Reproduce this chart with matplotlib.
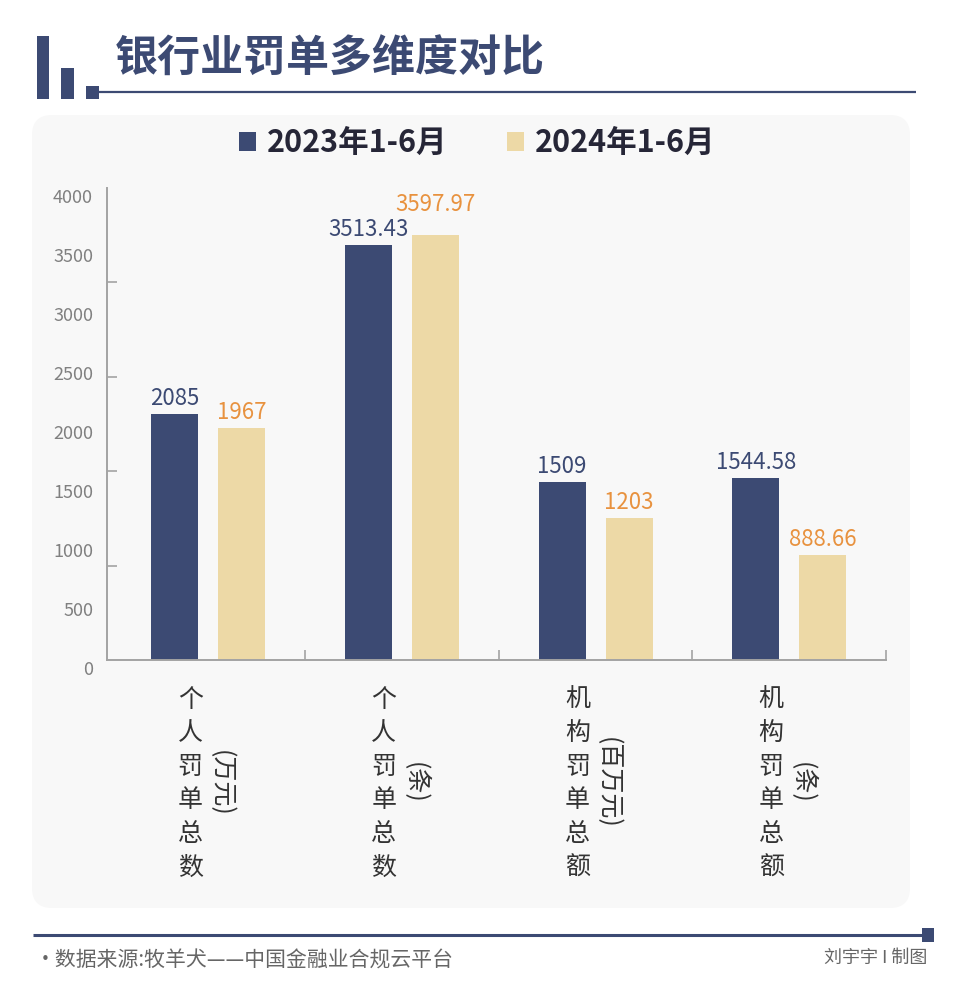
import numpy as np
import matplotlib
matplotlib.use('Agg')
import matplotlib.pyplot as plt
from matplotlib.patches import FancyBboxPatch, Rectangle
from matplotlib.lines import Line2D
from matplotlib.transforms import ScaledTranslation

plt.rcParams['font.family'] = ['Noto Sans CJK SC', 'DejaVu Sans']

# Data
categories = ['个人罚单总数', '个人罚单总数', '机构罚单总额', '机构罚单总额']
units = ['(万元)', '(条)', '(百万元)', '(条)']
series_names = ['2023年1-6月', '2024年1-6月']
values_2023 = [2085, 3513.43, 1509, 1544.58]
values_2024 = [1967, 3597.97, 1203, 888.66]
ytick_labels = [0, 500, 1000, 1500, 2000, 2500, 3000, 3500, 4000]
ytick_marks = [0, 800, 1600, 2400, 3200, 4000]

title = '银行业罚单多维度对比'
source_text = '·数据来源:牧羊犬——中国金融业合规云平台'
author_text = '刘宇宇 I 制图'

navy = '#3c4a73'
beige = '#edd9a6'
orange = '#e8923f'
gray_axis = '#a3a3a3'

W, H = 960, 994
fig = plt.figure(figsize=(W / 100, H / 100), dpi=100)
fig.patch.set_facecolor('white')
inch = fig.dpi_scale_trans


def px_rect(x0, y0, x1, y1, **kw):
    # pixel coords measured from top-left -> inches from bottom-left
    return Rectangle((x0 / 100, (H - y1) / 100), (x1 - x0) / 100, (y1 - y0) / 100,
                     transform=inch, **kw)


def px_line(x0, x1, y, lw, color):
    return Line2D([x0 / 100, x1 / 100], [(H - y) / 100, (H - y) / 100],
                  transform=inch, lw=lw, color=color, solid_capstyle='butt')


# light rounded panel behind the chart
panel = FancyBboxPatch((32 / 100, (H - 908) / 100), (910 - 32) / 100, (908 - 115) / 100,
                       boxstyle='round,pad=0,rounding_size=0.2', transform=inch,
                       fc='#f8f8f8', ec='none', zorder=0)
fig.add_artist(panel)

# title block
for box in [(37, 36, 49, 99), (61, 68, 74, 99), (86, 86, 99, 99)]:
    fig.add_artist(px_rect(*box, color=navy, lw=0))
fig.add_artist(px_line(99, 916, 92, 1.6, navy))
fig.text(115 / W, 1 - 59 / H, title, fontsize=31, weight='bold', color=navy,
         ha='left', va='center')

# footer
fig.add_artist(px_line(33, 922, 935, 2.2, navy))
fig.add_artist(px_rect(922, 928, 934, 942, color=navy, lw=0))
fig.text(35 / W, 1 - 961 / H, source_text, fontsize=15, color='#666666',
         ha='left', va='center')
fig.text(927 / W, 1 - 958 / H, author_text, fontsize=13, color='#666666',
         ha='right', va='center')

# chart
ax = fig.add_axes([107 / W, 1 - 660 / H, (886 - 107) / W, (660 - 188) / H])
ax.patch.set_alpha(0)

x = np.arange(len(categories))
off, bw = 0.173, 0.243
b1 = ax.bar(x - off, values_2023, bw, color=navy, label=series_names[0], zorder=2)
b2 = ax.bar(x + off, values_2024, bw, color=beige, label=series_names[1], zorder=2)

# value labels; the tall 2024 one is lifted so it clears its neighbour
lift = {1: 11}
for i, (xi, v) in enumerate(zip(x, values_2023)):
    ax.annotate(f'{v:g}', (xi - off, v), xytext=(0, 3), textcoords='offset points',
                ha='center', va='bottom', fontsize=16, color=navy)
for i, (xi, v) in enumerate(zip(x, values_2024)):
    ax.annotate(f'{v:g}', (xi + off, v), xytext=(0, 3 + lift.get(i, 0)),
                textcoords='offset points',
                ha='center', va='bottom', fontsize=16, color=orange)

ax.set_xlim(-0.523, 3.495)
ax.set_ylim(0, 4000)

for s in ['top', 'right']:
    ax.spines[s].set_visible(False)
for s in ['left', 'bottom']:
    ax.spines[s].set_color(gray_axis)
    ax.spines[s].set_linewidth(1.4)

ax.set_yticks(ytick_labels)
ax.set_yticks(ytick_marks, minor=True)
ax.tick_params(axis='y', which='major', length=0, pad=10, labelsize=13,
               labelcolor='#808080')
ax.tick_params(axis='y', which='minor', direction='in', length=7, width=1.2,
               color=gray_axis)
# labels sit a little below their tick positions in the original
shift = ScaledTranslation(0, -0.08, inch)
for lab in ax.get_yticklabels():
    lab.set_transform(lab.get_transform() + shift)

ax.set_xticks([])
ax.set_xticks([0.5, 1.5, 2.5, 3.5], minor=True)
ax.tick_params(axis='x', which='minor', direction='in', length=7, width=1.2,
               color=gray_axis, labelbottom=False)

# vertical category labels, unit rotated alongside
for i, (name, unit) in enumerate(zip(categories, units)):
    for j, ch in enumerate(name):
        ax.annotate(ch, xy=(i, 0), xycoords=('data', 'axes fraction'),
                    xytext=(-13, -28.8 - 24.1 * j), textcoords='offset points',
                    ha='center', va='center', fontsize=18, color='#333333')
    ax.annotate(unit, xy=(i, 0), xycoords=('data', 'axes fraction'),
                xytext=(9, -88.6), textcoords='offset points', rotation=-90,
                ha='center', va='center', fontsize=18, color='#333333')

fig.legend(handles=[b1, b2], labels=series_names, loc='center',
           bbox_to_anchor=(477 / W, 1 - 143 / H), ncol=2, frameon=False,
           prop=dict(size=22, weight='bold'), labelcolor='#262637',
           handlelength=0.56, handleheight=0.56, handletextpad=0.36,
           columnspacing=1.95)

fig.savefig('out.png', dpi=100)
